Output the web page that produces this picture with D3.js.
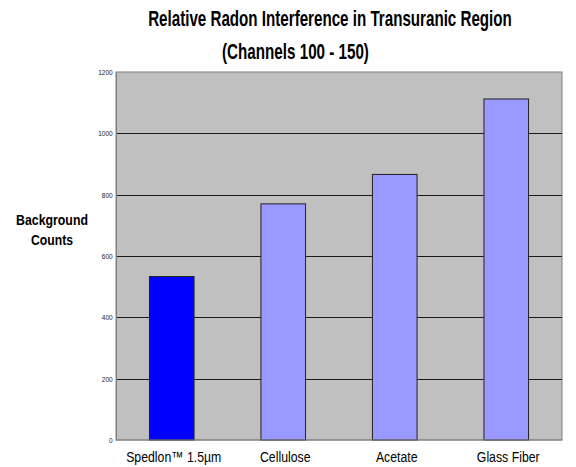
<!DOCTYPE html>
<html>
<head>
<meta charset="utf-8">
<script src="https://cdn.jsdelivr.net/npm/d3@7"></script>
<style>
  html, body { margin: 0; padding: 0; background: #ffffff; }
  svg { display: block; }
  text { font-family: "Liberation Sans", Arial, sans-serif; }
</style>
</head>
<body>
<svg id="chart" width="576" height="467"></svg>
<script>
const categories = ["Spedlon™ 1.5µm", "Cellulose", "Acetate", "Glass Fiber"];
const values = [533, 770, 866, 1112];
const tickValues = [0, 200, 400, 600, 800, 1000, 1200];
const titleLines = ["Relative Radon Interference in Transuranic Region", "(Channels 100 - 150)"];
const yLabelLines = ["Background", "Counts"];
const barColors = ["#0000ff", "#9999ff", "#9999ff", "#9999ff"];

const NARROW = 0.82; // emulate a narrow typeface

const svg = d3.select("#chart");
const margin = { left: 116, right: 14, top: 72, bottom: 27 };
const W = 576, H = 467;
const x0 = margin.left, x1 = W - margin.right, y0 = H - margin.bottom, y1 = margin.top;

const x = d3.scaleBand().domain(categories).range([x0, x1]).paddingInner(0.6).paddingOuter(0.3);
const y = d3.scaleLinear().domain([0, 1200]).range([y0, y1]);

// plot background
svg.append("rect").attr("x", x0).attr("y", y1).attr("width", x1 - x0).attr("height", y0 - y1)
  .attr("fill", "#c0c0c0").attr("stroke", "#808080").attr("stroke-width", 1);

// gridlines
svg.append("g").selectAll("line").data(tickValues.filter(d => d > 0 && d < 1200)).join("line")
  .attr("x1", x0).attr("x2", x1)
  .attr("y1", d => Math.round(y(d)) + 0.5).attr("y2", d => Math.round(y(d)) + 0.5)
  .attr("stroke", "#1a1a1a").attr("stroke-width", 1);

// y axis
const yAxis = d3.axisLeft(y).tickValues(tickValues).tickSize(0).tickPadding(4).tickFormat(d3.format("d"));
const gy = svg.append("g").attr("transform", `translate(${x0},0)`).call(yAxis);
gy.select(".domain").attr("stroke", "#808080");
gy.selectAll("text").attr("font-size", 8).attr("fill", "#222")
  .attr("transform", `scale(${NARROW},1)`);

// bars
svg.append("g").selectAll("rect").data(categories).join("rect")
  .attr("x", d => x(d)).attr("width", x.bandwidth())
  .attr("y", (d, i) => y(values[i])).attr("height", (d, i) => y(0) - y(values[i]))
  .attr("fill", (d, i) => barColors[i])
  .attr("stroke", "#222").attr("stroke-width", 1);

// bottom axis line
svg.append("line").attr("x1", x0).attr("x2", x1).attr("y1", y0).attr("y2", y0)
  .attr("stroke", "#808080").attr("stroke-width", 1);

// x axis labels
const xAxis = d3.axisBottom(x).tickSize(0).tickPadding(11);
const gx = svg.append("g").attr("transform", `translate(0,${y0})`).call(xAxis);
gx.select(".domain").remove();
gx.selectAll("text").attr("font-size", 15).attr("fill", "#000")
  .attr("transform", `translate(2,0) scale(${NARROW},1)`);

// helper: squeezed text at a position
function squeezed(parent, txt, cx, cy, size, weight, target) {
  const t = parent.append("text").attr("x", 0).attr("y", 0).attr("text-anchor", "middle")
    .attr("font-size", size).attr("font-weight", weight).attr("fill", "#000").text(txt);
  const w = t.node().getComputedTextLength();
  const s = target ? target / w : NARROW;
  t.attr("transform", `translate(${cx},${cy}) scale(${s},1)`);
  return t;
}

// title
squeezed(svg, titleLines[0], 330, 26, 22, "bold", 364);
squeezed(svg, titleLines[1], 295.5, 59, 22, "bold", 147);

// y label
squeezed(svg, yLabelLines[0], 52, 225, 15, "bold", 72);
squeezed(svg, yLabelLines[1], 52, 245, 15, "bold", 42);
</script>
</body>
</html>
